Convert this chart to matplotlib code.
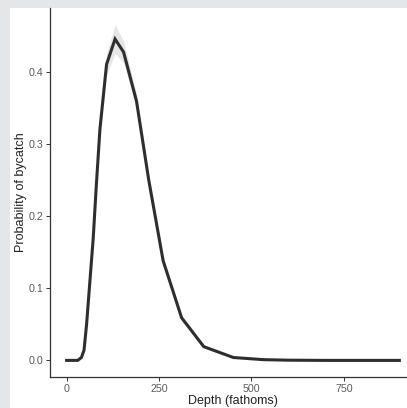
import matplotlib.pyplot as plt
from matplotlib.patches import Rectangle

# depth bins (fathoms) and fitted probability of bycatch
depth = [0, 10, 20, 30, 40, 47, 54, 63, 72, 80, 90, 108, 131, 154, 189,
         222, 261, 311, 371, 451, 533, 600, 700, 800, 900]
prob = [0.0, 0.0, 0.0, 0.0, 0.004, 0.014, 0.05, 0.11, 0.17, 0.24, 0.32,
        0.41, 0.445, 0.427, 0.359, 0.25, 0.138, 0.059, 0.019, 0.004,
        0.001, 0.0003, 0.0, 0.0, 0.0]
# confidence band
prob_lo = [0.0, 0.0, 0.0, 0.0, 0.003, 0.012, 0.046, 0.104, 0.162, 0.23,
           0.308, 0.395, 0.425, 0.412, 0.349, 0.243, 0.132, 0.055, 0.017,
           0.003, 0.0007, 0.0002, 0.0, 0.0, 0.0]
prob_hi = [0.0, 0.0, 0.0, 0.0, 0.005, 0.016, 0.054, 0.116, 0.178, 0.25,
           0.332, 0.425, 0.465, 0.442, 0.369, 0.257, 0.144, 0.063, 0.021,
           0.005, 0.0013, 0.0004, 0.0, 0.0, 0.0]

x_ticks = [0, 250, 500, 750]
y_ticks = [0.0, 0.1, 0.2, 0.3, 0.4]

plt.rcParams["font.family"] = ["Liberation Sans", "DejaVu Sans"]

fig = plt.figure(figsize=(4.07, 4.08), dpi=100, facecolor="#e3e7ea")
fig.patches.append(Rectangle((10 / 407, 0), 1, 400 / 408, transform=fig.transFigure,
                             facecolor="white", edgecolor="none", zorder=-5))

ax = fig.add_axes([50 / 407, 1 - 377 / 408, 366 / 407, 369 / 408])
ax.set_facecolor("none")

ax.fill_between(depth, prob_lo, prob_hi, color="#d6d6d6", alpha=0.6, linewidth=0)
ax.plot(depth, prob, color="#2e2e2e", linewidth=2.2, solid_joinstyle="miter")

ax.set_xlim(-45, 945)
ax.set_ylim(-0.023, 0.488)
ax.set_xticks(x_ticks)
ax.set_yticks(y_ticks)
ax.set_yticklabels([f"{v:.1f}" for v in y_ticks])

for side in ["top", "right"]:
    ax.spines[side].set_visible(False)
for side in ["left", "bottom"]:
    ax.spines[side].set_color("#333333")
    ax.spines[side].set_linewidth(0.9)

ax.tick_params(axis="both", length=3, width=0.7, color="#333333",
               labelsize=7.7, labelcolor="#5a5a5a", pad=2)

ax.set_xlabel("Depth (fathoms)", fontsize=9, color="#222222", labelpad=1)
ax.set_ylabel("Probability of bycatch", fontsize=9, color="#222222", labelpad=1)

plt.savefig("out.png", dpi=100, facecolor=fig.get_facecolor())
plt.close()
